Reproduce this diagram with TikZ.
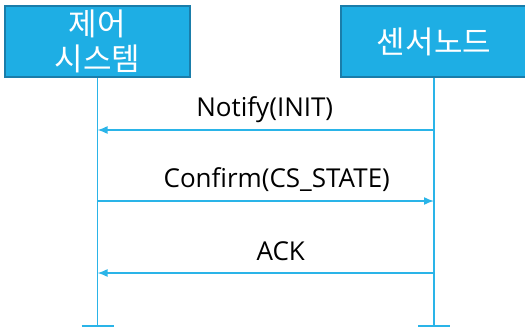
\documentclass[tikz,border=0pt]{standalone}
\usepackage{fontspec}
\setmainfont{Open Sans}
\newfontfamily\kofont{Noto Sans CJK KR}
\usetikzlibrary{positioning,arrows.meta}
\definecolor{boxblue}{HTML}{1EAEE4}
\definecolor{boxedge}{HTML}{1A7DAA}
\definecolor{lineblue}{HTML}{2AB4E8}

\begin{document}
\begin{tikzpicture}[x=1pt,y=-1pt,
		actor/.style={draw=boxedge, line width=2pt, fill=boxblue, text=white,
			font=\kofont\fontsize{31}{35}\selectfont, align=center, inner sep=0pt},
		life/.style={draw=lineblue, line width=1.5pt},
		msg/.style={draw=lineblue, line width=1.5pt, -{Latex[length=10pt,width=8pt]}},
		lbl/.style={font=\fontsize{26}{30}\selectfont, text=black, inner sep=0pt}]

		\useasboundingbox (0,0) rectangle (525,332);
		\def\lifeend{326}

		% participants
		\node[actor, minimum width=185pt, minimum height=71pt] (ctrl) at (97.5,41.5) {제어\\시스템};
		\node[actor, minimum width=186pt, minimum height=71pt] (sensor) at (434,41.5) {센서노드};

		% lifelines
		\path (ctrl.south |- 0,\lifeend) coordinate (ctrl end);
		\path (sensor.south |- 0,\lifeend) coordinate (sensor end);
		\draw[life] (ctrl.south) -- (ctrl end);
		\draw[life] (sensor.south) -- (sensor end);
		\draw[life, line width=2.5pt] (ctrl end) ++(-16,0) -- ++(32,0);
		\draw[life, line width=2.5pt] (sensor end) ++(-16,0) -- ++(32,0);

		% message points on the lifelines
		\path (ctrl.south |- 0,130) coordinate (c1);
		\path (sensor.south |- 0,130) coordinate (s1);
		\path (ctrl.south |- 0,201) coordinate (c2);
		\path (sensor.south |- 0,201) coordinate (s2);
		\path (ctrl.south |- 0,273) coordinate (c3);
		\path (sensor.south |- 0,273) coordinate (s3);

		% messages
		\draw[msg] (s1) -- node[lbl, yshift=20pt, xshift=-1pt] (notify) {Notify(INIT)} (c1);
		\draw[msg] (c2) -- node[lbl, yshift=21pt, xshift=11pt] (confirm) {Confirm(CS\_STATE)} (s2);
		\draw[msg] (s3) -- node[lbl, yshift=22pt, xshift=15pt] (ack) {ACK} (c3);
	\end{tikzpicture}
\end{document}
